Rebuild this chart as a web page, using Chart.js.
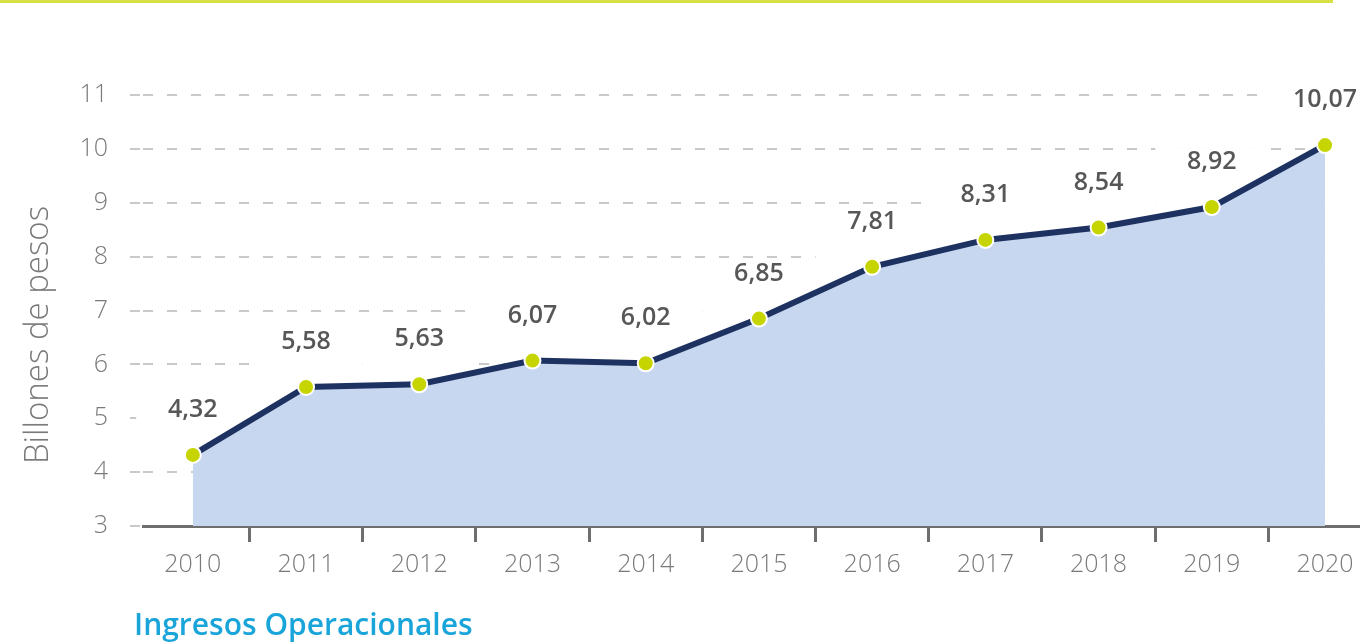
<!DOCTYPE html>
<html lang="es">
<head>
<meta charset="utf-8">
<title>Ingresos Operacionales</title>
<script src="https://cdn.jsdelivr.net/npm/chart.js@4.4.1/dist/chart.umd.min.js"></script>
<style>
  html, body { margin: 0; padding: 0; background: #fff; }
  #wrap { position: relative; width: 1369px; height: 644px; overflow: hidden; }
  #topLine { position: absolute; left: 0; top: 0; width: 1333px; height: 3px; background: #d6e045; }
  #yTitle {
    position: absolute; left: -114px; top: 316px; width: 300px; height: 38px;
    line-height: 38px; text-align: center; transform: rotate(-90deg);
    font-family: "Open Sans", sans-serif; font-weight: 300; font-size: 33px; color: #7a7a7a;
    white-space: nowrap;
  }
  #titulo {
    position: absolute; left: 134px; top: 609px;
    font-family: "Open Sans", sans-serif; font-weight: 600; font-size: 30px; line-height: 30px;
    color: #1aa5da; white-space: nowrap;
  }
</style>
</head>
<body>
<div id="wrap">
  <canvas id="chart"></canvas>
  <div id="topLine"></div>
  <div id="yTitle">Billones de pesos</div>
  <div id="titulo">Ingresos Operacionales</div>
</div>
<script>
// Datos del gráfico
const years = [2010, 2011, 2012, 2013, 2014, 2015, 2016, 2017, 2018, 2019, 2020];
const ingresos = [4.32, 5.58, 5.63, 6.07, 6.02, 6.85, 7.81, 8.31, 8.54, 8.92, 10.07];
const yMin = 3, yMax = 11;

const fontTicks = { family: 'Open Sans', size: 25, weight: '300' };

// Formato con coma decimal
const fmt = v => v.toFixed(2).replace('.', ',');

// Etiquetas de valor sobre cada punto (con fondo blanco que tapa la grilla)
const etiquetas = {
  id: 'etiquetas',
  beforeDatasetsDraw(chart) {
    const meta = chart.getDatasetMeta(0);
    const xs = chart.scales.x;
    const area = chart.chartArea;
    const ctx = chart.ctx;
    ctx.save();
    ctx.fillStyle = '#fff';
    meta.data.forEach((p, i) => {
      const half = xs.getPixelForValue(years[i] + 0.5) - p.x;
      const top = p.y - 45 - 14;
      ctx.fillRect(p.x - half, top, half * 2, p.y - top);
    });
    // a la derecha del último punto no hay grilla
    const last = meta.data[meta.data.length - 1];
    ctx.fillRect(last.x, last.y, area.right - last.x + 10, area.bottom - last.y - 2);
    ctx.restore();
  },
  afterDatasetsDraw(chart) {
    const meta = chart.getDatasetMeta(0);
    const ctx = chart.ctx;
    ctx.save();
    ctx.font = '600 25px "Open Sans"';
    ctx.fillStyle = '#575757';
    ctx.textAlign = 'center';
    ctx.textBaseline = 'middle';
    meta.data.forEach((p, i) => {
      ctx.fillText(fmt(ingresos[i]), p.x, p.y - 45);
    });
    ctx.restore();
  }
};

const ctx = document.getElementById('chart').getContext('2d');
new Chart(ctx, {
  type: 'line',
  data: {
    datasets: [{
      data: years.map((y, i) => ({ x: y, y: ingresos[i] })),
      borderColor: '#1e3262',
      borderWidth: 6,
      backgroundColor: '#c7d7ef',
      fill: 'start',
      tension: 0,
      pointRadius: 8,
      pointBackgroundColor: '#c6d400',
      pointBorderColor: '#ffffff',
      pointBorderWidth: 2,
      pointHoverRadius: 8
    }]
  },
  options: {
    responsive: true,
    maintainAspectRatio: false,
    animation: false,
    events: [],
    layout: { padding: { top: 95, right: 0, left: 0, bottom: 0 } },
    plugins: {
      legend: { display: false },
      tooltip: { enabled: false }
    },
    scales: {
      x: {
        type: 'linear',
        min: 2009.56,
        max: 2020.30,
        afterFit: s => { s.height = 118; },
        ticks: {
          stepSize: 1, includeBounds: false, autoSkip: false, maxRotation: 0,
          padding: 8, color: '#7a7a7a', font: fontTicks,
          callback: v => String(v)
        },
        grid: {
          offset: true, drawOnChartArea: false, drawTicks: true,
          tickLength: 16, tickColor: '#6e6e6e', tickWidth: 3
        },
        border: { display: true, color: '#6e6e6e', width: 3 }
      },
      y: {
        min: yMin,
        max: yMax,
        afterFit: s => { s.width = 143; },
        ticks: { stepSize: 1, padding: 22, color: '#7a7a7a', font: fontTicks },
        grid: {
          color: '#c9c9c9', lineWidth: 2,
          drawTicks: true, tickLength: 13, tickColor: '#c9c9c9', tickWidth: 2, tickBorderDash: [10, 14]
        },
        border: { display: false, dash: [10, 14] }
      }
    }
  },
  plugins: [etiquetas]
});
</script>
</body>
</html>
